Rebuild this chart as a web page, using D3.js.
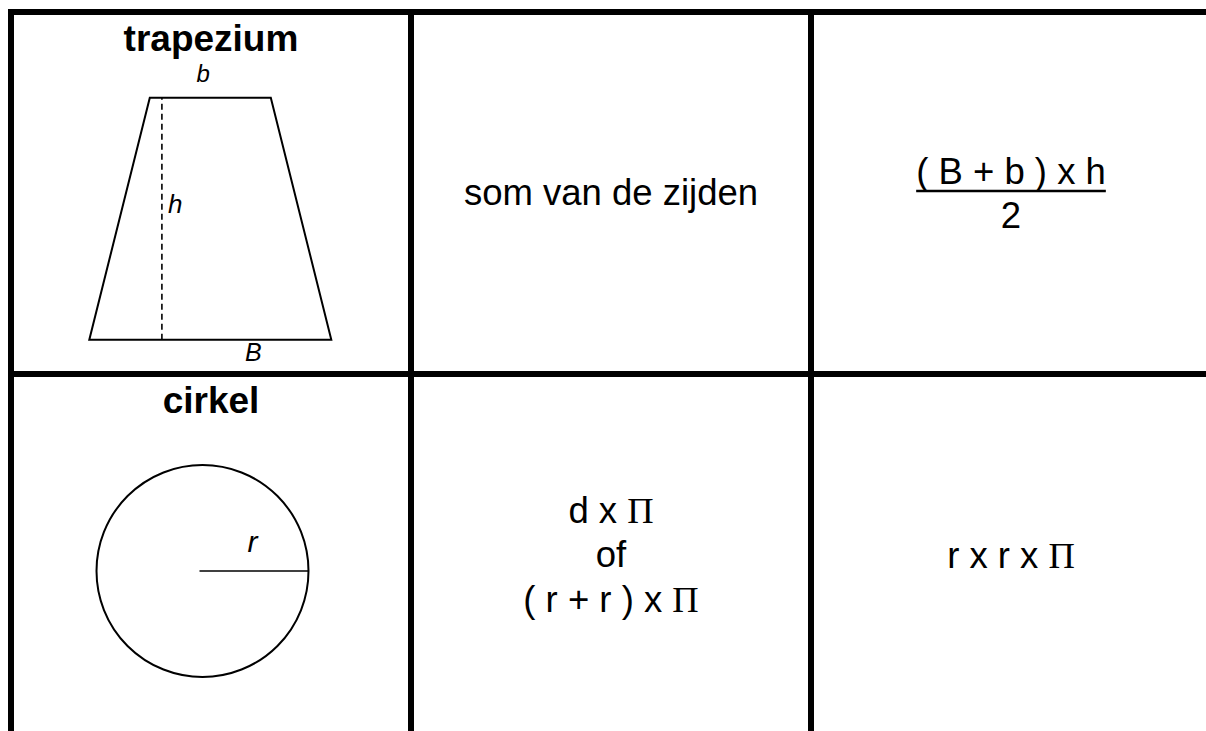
<!DOCTYPE html>
<html>
<head>
<meta charset="utf-8">
<script src="https://cdn.jsdelivr.net/npm/d3@7"></script>
<style>
  html, body { margin: 0; padding: 0; background: #fff; overflow: hidden; }
  svg { display: block; }
  text { font-family: "Liberation Sans", Arial, sans-serif; fill: #000; }
  .pi { font-family: "Liberation Serif", "Times New Roman", serif; }
</style>
</head>
<body>
<div id="chart"></div>
<script>
// table content
const shapes = ["trapezium", "cirkel"];
const columns = ["figuur", "omtrek", "oppervlakte"];
const perimeterLines = [["som van de zijden"], ["d x Π", "of", "( r + r ) x Π"]];
const areaLines = [["( B + b ) x h", "2"], ["r x r x Π"]];
const areaIsFraction = [true, false];

// figure sizes in drawing units
const trapBottom = 10;   // B
const trapTop = 5;       // b
const trapHeight = 10;   // h
const trapShift = 2.5;   // horizontal offset of b from left end of B
const trapDashAt = 3;    // x of the dashed height line, from left end of B
const circleRadius = 4.38;

const width = 1206, height = 731;

const svg = d3.select("#chart").append("svg")
    .attr("width", width)
    .attr("height", height);

const x = d3.scaleBand().domain(columns).range([11, 1211]);
const y = d3.scaleBand().domain(shapes).range([12, 736]);
const unit = d3.scaleLinear().domain([0, 10]).range([0, 242]);

const fontSize = 36.5;

// grid
const grid = svg.append("g").attr("stroke", "#000").attr("stroke-width", 6);
const xEdges = columns.map(c => x(c)).concat([x.range()[1]]);
const yEdges = shapes.map(s => y(s)).concat([y.range()[1]]);
xEdges.forEach(v => grid.append("line")
    .attr("x1", v).attr("x2", v)
    .attr("y1", y.range()[0] - 3).attr("y2", y.range()[1] + 3));
yEdges.forEach(v => grid.append("line")
    .attr("y1", v).attr("y2", v)
    .attr("x1", x.range()[0] - 3).attr("x2", x.range()[1] + 3));

// writes a line of text, putting Π in a serif face
function writeLine(g, str, cx, baseline, size) {
    const t = g.append("text")
        .attr("x", cx)
        .attr("y", baseline)
        .attr("text-anchor", "middle")
        .attr("font-size", size);
    str.split("Π").forEach((part, i, arr) => {
        t.append("tspan").text(part);
        if (i < arr.length - 1) t.append("tspan").attr("class", "pi").text("Π");
    });
    return t;
}

shapes.forEach((shape, i) => {
    const top = y(shape);
    const mid = top + y.bandwidth() / 2;
    const cell = svg.append("g");

    // title
    cell.append("text")
        .attr("x", x("figuur") + x.bandwidth() / 2)
        .attr("y", top + 39)
        .attr("text-anchor", "middle")
        .attr("font-size", 37)
        .attr("font-weight", "bold")
        .text(shape);

    // perimeter
    const pl = perimeterLines[i];
    const step = 44.5;
    const cxP = x("omtrek") + x.bandwidth() / 2;
    pl.forEach((str, k) => {
        writeLine(cell, str, cxP, mid + 12 + (k - (pl.length - 1) / 2) * step, fontSize);
    });

    // area
    const cxA = x("oppervlakte") + x.bandwidth() / 2;
    if (areaIsFraction[i]) {
        const num = writeLine(cell, areaLines[i][0], cxA, mid - 9, fontSize);
        writeLine(cell, areaLines[i][1], cxA, mid + 35, fontSize);
        const w = num.node().getComputedTextLength();
        cell.append("line")
            .attr("x1", cxA - w / 2).attr("x2", cxA + w / 2)
            .attr("y1", mid - 2).attr("y2", mid - 2)
            .attr("stroke", "#000").attr("stroke-width", 2.5);
    } else {
        writeLine(cell, areaLines[i][0], cxA, mid + 13, fontSize);
    }
});

// trapezium figure
{
    const ox = x("figuur") + 78.3, oy = y("trapezium") + 327.7;
    const pts = [
        [0, 0], [trapBottom, 0],
        [trapShift + trapTop, trapHeight], [trapShift, trapHeight]
    ].map(p => [ox + unit(p[0]), oy - unit(p[1])]);
    const g = svg.append("g");
    g.append("path")
        .attr("d", d3.line()(pts) + "Z")
        .attr("fill", "none")
        .attr("stroke", "#000")
        .attr("stroke-width", 2);
    g.append("line")
        .attr("x1", ox + unit(trapDashAt)).attr("x2", ox + unit(trapDashAt))
        .attr("y1", oy).attr("y2", oy - unit(trapHeight))
        .attr("stroke", "#000")
        .attr("stroke-width", 1.6)
        .attr("stroke-dasharray", "6,4");
    g.append("text")
        .attr("x", ox + unit(trapShift + trapTop / 2) - 7)
        .attr("y", oy - unit(trapHeight) - 16)
        .attr("text-anchor", "middle")
        .attr("font-size", 24).attr("font-style", "italic")
        .text("b");
    g.append("text")
        .attr("x", ox + unit(trapDashAt) + 6)
        .attr("y", oy - unit(trapHeight / 2) - 6)
        .attr("font-size", 26).attr("font-style", "italic")
        .text("h");
    g.append("text")
        .attr("x", ox + unit(trapBottom / 2) + 43)
        .attr("y", oy + 21)
        .attr("text-anchor", "middle")
        .attr("font-size", 25).attr("font-style", "italic")
        .text("B");
}

// circle figure
{
    const cx = x("figuur") + 191.5, cy = y("cirkel") + 197;
    const g = svg.append("g");
    g.append("circle")
        .attr("cx", cx).attr("cy", cy)
        .attr("r", unit(circleRadius))
        .attr("fill", "none")
        .attr("stroke", "#000")
        .attr("stroke-width", 2);
    g.append("line")
        .attr("x1", cx - 3).attr("x2", cx + unit(circleRadius))
        .attr("y1", cy).attr("y2", cy)
        .attr("stroke", "#000")
        .attr("stroke-width", 1.3);
    g.append("text")
        .attr("x", cx + unit(circleRadius) / 2 - 3)
        .attr("y", cy - 19)
        .attr("text-anchor", "middle")
        .attr("font-size", 30).attr("font-style", "italic")
        .text("r");
}
</script>
</body>
</html>
